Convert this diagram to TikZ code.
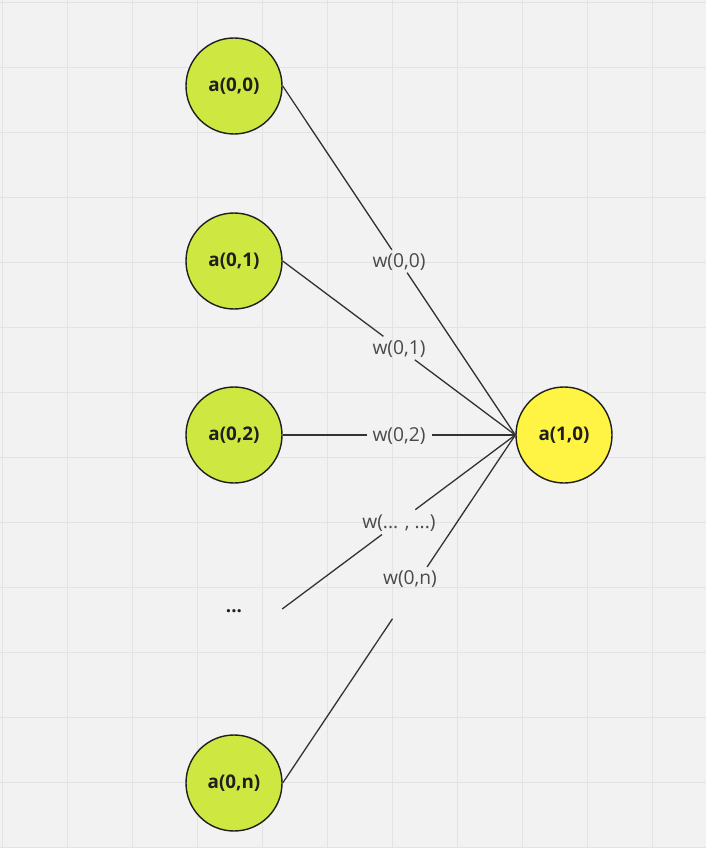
\documentclass[tikz,border=0pt]{standalone}
\usepackage{fontspec}
\setmainfont{Open Sans}
\usetikzlibrary{calc}
\definecolor{bg}{HTML}{F2F2F2}
\definecolor{gridc}{HTML}{E3E3E3}
\definecolor{nodegreen}{HTML}{CFE841}
\definecolor{nodeyellow}{HTML}{FFF343}
\definecolor{edgec}{HTML}{333333}
\definecolor{labelc}{HTML}{4A4A4A}
\definecolor{textc}{HTML}{1F1F1F}
\begin{document}
\begin{tikzpicture}[x=1pt,y=-1pt,
  neuron/.style={circle, draw=textc, line width=1.4pt, minimum size=96pt, inner sep=0pt,
    font=\bfseries\fontsize{18.8}{22}\selectfont, text=textc},
  ghost/.style={circle, minimum size=96pt, inner sep=0pt,
    font=\bfseries\fontsize{18.8}{22}\selectfont, text=textc},
  edge/.style={draw=edgec, line width=1.3pt},
  wlabel/.style={inner sep=0pt, font=\fontsize{19.2}{22}\selectfont, text=labelc},
  gridline/.style={draw=gridc, line width=1.4pt}]
\useasboundingbox (0,0) rectangle (706,848);
\fill[bg] (0,0) rectangle (706,848);
\foreach \i in {0,...,10} \draw[gridline] (2.5+65*\i,0) -- (2.5+65*\i,848);
\foreach \j in {0,...,13} \draw[gridline] (0,2.5+65*\j) -- (706,2.5+65*\j);

\node[neuron, fill=nodegreen] (a00) at (234,86) {\raisebox{-1.5pt}{a(0,0)}};
\node[neuron, fill=nodegreen] (a01) at (234,261) {\raisebox{-1.5pt}{a(0,1)}};
\node[neuron, fill=nodegreen] (a02) at (234,435) {\raisebox{-1.5pt}{a(0,2)}};
\node[ghost] (adots) at (234,609) {\raisebox{-3.5pt}[0pt][0pt]{...}};
\node[neuron, fill=nodegreen] (a0n) at (234,783) {\raisebox{-1.5pt}{a(0,n)}};
\node[neuron, fill=nodeyellow] (a10) at (564,435) {\raisebox{-1.5pt}{a(1,0)}};

\draw[edge] (a00.east) -- ($(a00.east)!0.469!(a10.west)$);
\draw[edge] ($(a00.east)!0.535!(a10.west)$) -- (a10.west);
\draw[edge] (a01.east) -- ($(a01.east)!0.433!(a10.west)$);
\draw[edge] ($(a01.east)!0.568!(a10.west)$) -- (a10.west);
\draw[edge] (a02.east) -- ($(a02.east)!0.363!(a10.west)$);
\draw[edge] ($(a02.east)!0.641!(a10.west)$) -- (a10.west);
\draw[edge] (adots.east) -- ($(adots.east)!0.428!(a10.west)$);
\draw[edge] ($(adots.east)!0.571!(a10.west)$) -- (a10.west);
\draw[edge] (a0n.east) -- ($(a0n.east)!0.472!(a10.west)$);
\draw[edge] ($(a0n.east)!0.621!(a10.west)$) -- (a10.west);

\node[wlabel] (w00) at (399,262.5) {w(0,0)};
\node[wlabel] (w01) at (399,349) {w(0,1)};
\node[wlabel] (w02) at (399,436) {w(0,2)};
\node[wlabel] (wdots) at (399,523) {w(... , ...)};
\node[wlabel] (w0n) at (410,579) {w(0,n)};
\end{tikzpicture}
\end{document}
